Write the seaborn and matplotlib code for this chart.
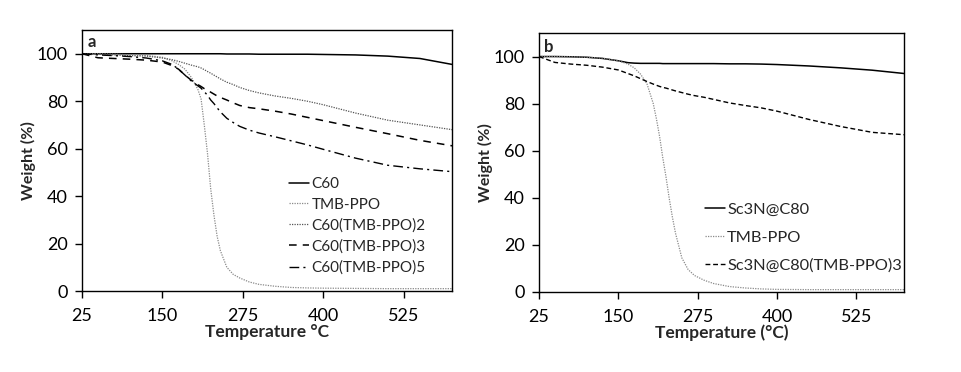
import matplotlib
matplotlib.use("Agg")
import matplotlib.pyplot as plt
import seaborn as sns
import pandas as pd

sns.set_theme(style="ticks")
plt.rcParams['font.family'] = ['Lato', 'DejaVu Sans']

# ---------- Panel a data ----------
temp_a = [25, 50, 75, 100, 125, 150, 165, 175, 185, 195, 205, 210, 215, 220, 225,
          230, 235, 240, 250, 260, 270, 285, 300, 325, 350, 375, 400, 450, 500, 550, 600]
c60 = [100, 100, 100, 100, 100, 100, 100, 100, 100, 100, 100, 100, 100, 100, 100,
       100, 100, 100, 99.9, 99.9, 99.9, 99.9, 99.8, 99.8, 99.8, 99.8, 99.7, 99.5, 99.0, 98.0, 95.5]
tmbppo_a = [100, 100, 99.8, 99.6, 99.3, 98.5, 97, 95.5, 93.5, 90, 85, 81, 70, 58, 43,
            32, 23, 17, 10, 7, 5.5, 3.8, 2.8, 2.0, 1.5, 1.3, 1.2, 1.1, 1.0, 1.0, 1.0]
c60_tmb2 = [100, 99.8, 99.5, 99.2, 99.0, 98.2, 97.5, 96.8, 96.0, 95.2, 94.5, 94.0, 93.3, 92.5, 91.8,
            91.0, 90.2, 89.4, 88.0, 87.0, 85.8, 84.5, 83.5, 82.2, 81.2, 80.0, 78.5, 75.0, 72.0, 70.0, 68.0]
c60_tmb3 = [100, 98.3, 98.0, 97.7, 97.3, 96.5, 95.0, 93.5, 91.0, 88.8, 87.0, 86.2, 85.3, 84.6, 83.8,
            83.0, 82.2, 81.6, 80.5, 79.3, 78.2, 77.3, 76.8, 75.8, 74.6, 73.2, 71.8, 69.0, 66.3, 63.5, 61.2]
c60_tmb5 = [100, 99.5, 99.2, 98.8, 98.2, 97.0, 95.5, 93.5, 91.0, 88.5, 86.5, 85.5, 84.0, 82.5, 80.5,
            79.0, 77.2, 75.5, 72.8, 71.0, 69.4, 67.8, 66.6, 65.0, 63.3, 61.6, 59.7, 56.0, 53.0, 51.5, 50.3]

# ---------- Panel b data ----------
temp_b = [25, 50, 75, 100, 125, 150, 165, 175, 185, 195, 205, 210, 215, 220, 225,
          230, 235, 240, 250, 260, 270, 285, 300, 325, 350, 375, 400, 450, 500, 550, 600]
sc3n = [100, 100, 99.9, 99.7, 99.2, 98.2, 97.4, 97.2, 97.1, 97.1, 97.1, 97.1, 97.1, 97.0, 97.0,
        97.0, 97.0, 97.0, 97.0, 97.0, 97.0, 97.0, 97.0, 96.9, 96.9, 96.8, 96.6, 96.0, 95.2, 94.2, 92.8]
tmbppo_b = [100, 100, 99.9, 99.7, 99.3, 98.2, 96.8, 95.2, 92.5, 88.5, 80, 73.5, 66, 57, 49,
            40, 32, 25, 14.5, 9.5, 7.0, 5.0, 3.6, 2.3, 1.7, 1.3, 1.1, 1.0, 1.0, 1.0, 1.0]
sc3n_tmb3 = [100, 97.5, 96.8, 96.3, 95.5, 94.3, 92.8, 91.8, 90.6, 89.4, 88.3, 87.8, 87.3, 86.9, 86.6,
             86.2, 85.8, 85.4, 84.7, 84.0, 83.4, 82.7, 81.8, 80.3, 79.2, 78.2, 76.8, 73.3, 70.3, 67.8, 66.8]

labels_a = ["C60", "TMB-PPO", "C60(TMB-PPO)2", "C60(TMB-PPO)3", "C60(TMB-PPO)5"]
labels_b = ["Sc3N@C80", "TMB-PPO", "Sc3N@C80(TMB-PPO)3"]
xticks = [25, 150, 275, 400, 525]
yticks = [0, 20, 40, 60, 80, 100]

styles_a = [
    dict(color="black", linestyle="-", linewidth=1.1),
    dict(color="#8a8a8a", linestyle=(0, (1, 1)), linewidth=0.9),
    dict(color="#555555", linestyle=(0, (1, 1)), linewidth=0.9),
    dict(color="black", linestyle=(0, (5, 4)), linewidth=1.1),
    dict(color="black", linestyle=(0, (7, 3, 1.5, 3)), linewidth=1.0),
]
styles_b = [
    dict(color="black", linestyle="-", linewidth=1.1),
    dict(color="#8a8a8a", linestyle=(0, (1, 1)), linewidth=0.9),
    dict(color="black", linestyle=(0, (3.5, 2)), linewidth=1.0),
]

fig = plt.figure(figsize=(9.62, 3.72), dpi=100)
ax_a = fig.add_axes([0.0852, 0.2177, 0.3848, 0.7016])
ax_b = fig.add_axes([0.5603, 0.2151, 0.3794, 0.6962])


def draw(ax, temps, series, labels, styles):
    for vals, lab, st in zip(series, labels, styles):
        df = pd.DataFrame({"Temperature": temps, "Weight": vals})
        sns.lineplot(data=df, x="Temperature", y="Weight", ax=ax, label=lab,
                     estimator=None, sort=False, **st)
    ax.set_xlim(25, 600)
    ax.set_ylim(0, 110)
    ax.set_xticks(xticks)
    ax.set_yticks(yticks)
    ax.tick_params(direction="out", length=5, width=1, labelsize=13, colors="black")
    ax.tick_params(axis="y", pad=5)
    ax.tick_params(axis="x", pad=7)
    for s in ax.spines.values():
        s.set_linewidth(1.0)
        s.set_color("black")
        s.set_visible(True)
    ax.set_ylabel("Weight (%)", fontsize=11.5, fontweight="bold", labelpad=1)


draw(ax_a, temp_a, [c60, tmbppo_a, c60_tmb2, c60_tmb3, c60_tmb5], labels_a, styles_a)
draw(ax_b, temp_b, [sc3n, tmbppo_b, sc3n_tmb3], labels_b, styles_b)

ax_a.set_xlabel("Temperature \u00b0C", fontsize=12.5, fontweight="bold", labelpad=0)
ax_b.set_xlabel("Temperature (\u00b0C)", fontsize=12.5, fontweight="bold", labelpad=0)

ax_a.text(0.015, 0.985, "a", transform=ax_a.transAxes, ha="left", va="top",
          fontsize=12, fontweight="bold")
ax_b.text(0.015, 0.975, "b", transform=ax_b.transAxes, ha="left", va="top",
          fontsize=12, fontweight="bold")

ax_a.legend(loc="upper left", bbox_to_anchor=(0.56, 0.437), frameon=False,
            fontsize=11.0, handlelength=1.3, handletextpad=0.15, labelspacing=0.44,
            borderpad=0, borderaxespad=0)
ax_b.legend(loc="upper left", bbox_to_anchor=(0.455, 0.345), frameon=False,
            fontsize=11.8, handlelength=1.2, handletextpad=0.15, labelspacing=0.8,
            borderpad=0, borderaxespad=0)

fig.savefig("out.png", dpi=100, facecolor="white")
